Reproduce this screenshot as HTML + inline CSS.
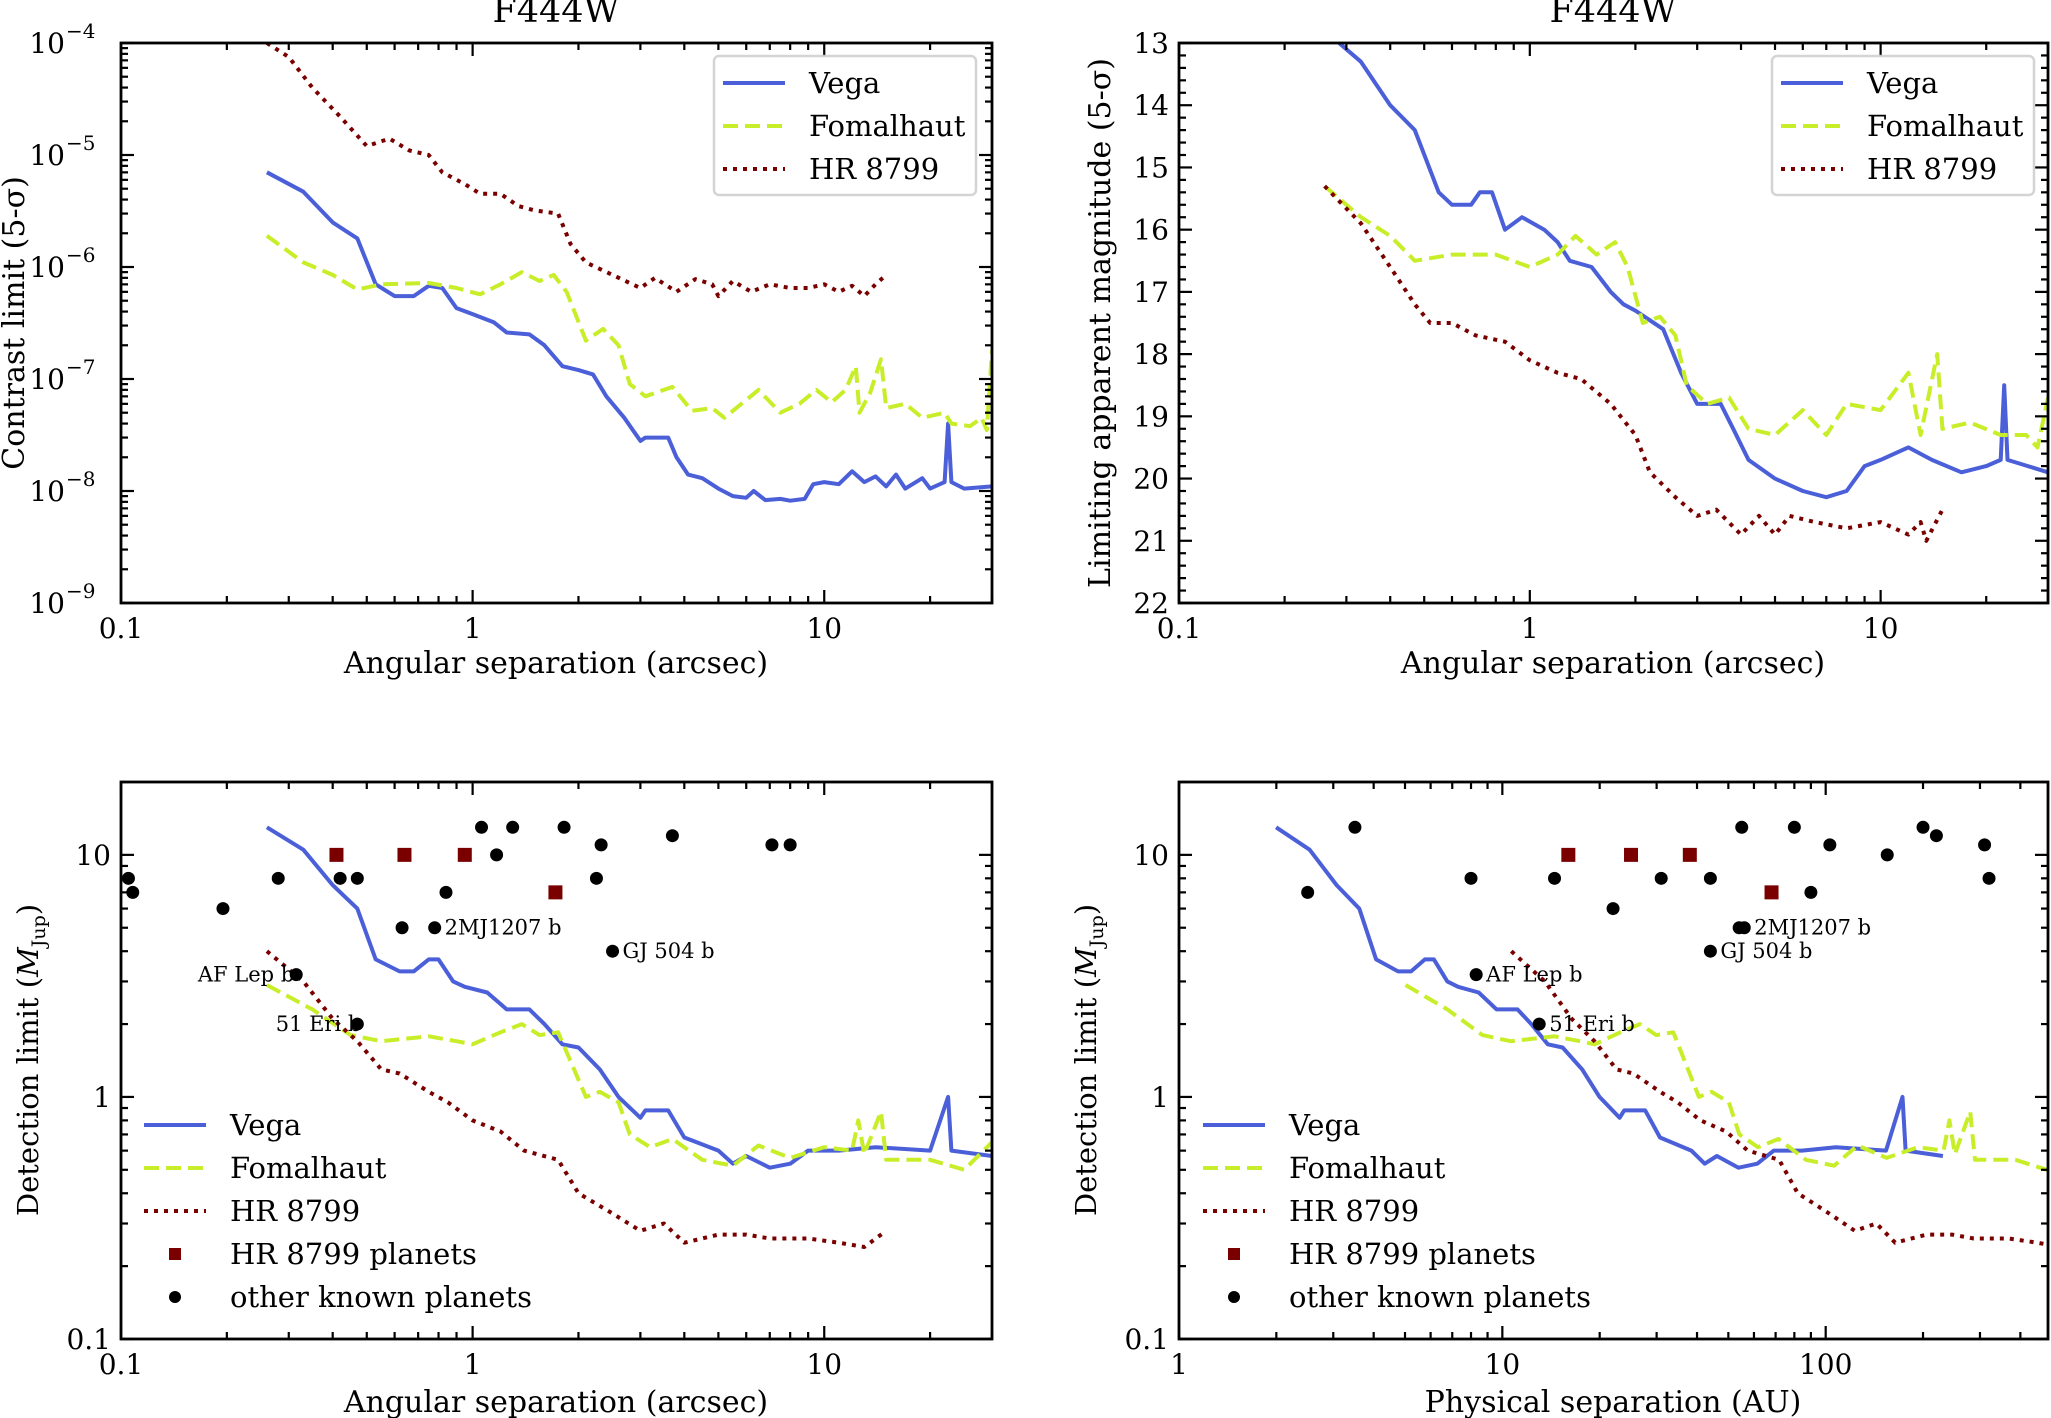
<!DOCTYPE html>
<html><head><meta charset="utf-8">
<style>
html,body{margin:0;padding:0;background:#fff;}
svg{display:block;font-family:"DejaVu Serif","Liberation Serif",serif;}
</style></head>
<body>
<svg id="fig" width="2051" height="1418" viewBox="0 0 2051 1418" xmlns="http://www.w3.org/2000/svg"></svg>
<script>
// ---------- DATA ----------
const vegaContrastX=[0.26,0.33,0.4,0.47,0.53,0.6,0.68,0.75,0.82,0.9,1.0,1.15,1.25,1.45,1.6,1.8,2.0,2.2,2.4,2.7,3.0,3.1,3.6,3.8,4.1,4.5,5,5.5,6,6.3,6.8,7.5,8,8.8,9.3,10,11,12,13,14,15,16,17,19,20,22,22.5,23,25,30];
const vegaContrastY=[7e-6,4.7e-6,2.5e-6,1.8e-6,7e-7,5.5e-7,5.5e-7,6.8e-7,6.5e-7,4.3e-7,3.8e-7,3.2e-7,2.6e-7,2.5e-7,2e-7,1.3e-7,1.2e-7,1.1e-7,7e-8,4.5e-8,2.8e-8,3e-8,3e-8,2e-8,1.4e-8,1.3e-8,1.05e-8,9e-9,8.7e-9,1e-8,8.3e-9,8.5e-9,8.2e-9,8.5e-9,1.15e-8,1.2e-8,1.15e-8,1.5e-8,1.2e-8,1.35e-8,1.1e-8,1.4e-8,1.05e-8,1.3e-8,1.05e-8,1.2e-8,4e-8,1.2e-8,1.05e-8,1.1e-8];
const fomContrastX=[0.26,0.33,0.4,0.47,0.55,0.75,0.9,1.05,1.2,1.38,1.55,1.7,1.85,2.1,2.35,2.6,2.8,3.1,3.7,4.2,4.8,5.2,6,6.5,7.5,8.5,9.5,10.5,11.5,12.3,12.6,13.5,14.5,15,17,19,22,23,26,28,29,30];
const fomContrastY=[1.9e-6,1.1e-6,8.5e-7,6.3e-7,7e-7,7.2e-7,6.5e-7,5.7e-7,7e-7,9e-7,7.5e-7,8.5e-7,6e-7,2.2e-7,2.8e-7,2e-7,9e-8,7e-8,8.5e-8,5.2e-8,5.5e-8,4.5e-8,6.5e-8,8e-8,5e-8,6e-8,8e-8,6.2e-8,8e-8,1.3e-7,5e-8,7.5e-8,1.5e-7,5.5e-8,6e-8,4.5e-8,5e-8,4e-8,3.8e-8,4.5e-8,3.5e-8,1.8e-7];
const hrContrastX=[0.26,0.3,0.35,0.42,0.5,0.58,0.66,0.75,0.82,0.95,1.05,1.2,1.35,1.5,1.75,1.9,2.1,2.5,3.0,3.3,3.8,4.3,4.8,5.0,5.5,6.2,7,8,9,10,11,12,13,14,15];
const hrContrastY=[1e-4,7.5e-5,4e-5,2.2e-5,1.2e-5,1.4e-5,1.1e-5,1e-5,7e-6,5.5e-6,4.5e-6,4.5e-6,3.5e-6,3.2e-6,3e-6,1.6e-6,1.1e-6,8.5e-7,6.5e-7,8e-7,6e-7,7.8e-7,7e-7,5.5e-7,7.5e-7,6e-7,7e-7,6.5e-7,6.5e-7,7e-7,6e-7,6.8e-7,5.5e-7,7e-7,8.5e-7];
const vegaMagX=[0.26,0.33,0.4,0.47,0.55,0.6,0.68,0.72,0.78,0.85,0.95,1.1,1.2,1.3,1.5,1.7,1.85,2.0,2.4,2.7,3.0,3.5,3.8,4.2,5,6,7,8,9,10,12,14,17,20,22,22.5,23,30];
const vegaMagY=[12.8,13.3,14,14.4,15.4,15.6,15.6,15.4,15.4,16,15.8,16,16.2,16.5,16.6,17,17.2,17.3,17.6,18.3,18.8,18.8,19.2,19.7,20,20.2,20.3,20.2,19.8,19.7,19.5,19.7,19.9,19.8,19.7,18.5,19.7,19.9];
const fomMagX=[0.26,0.33,0.4,0.47,0.6,0.8,1.0,1.2,1.35,1.55,1.75,1.9,2.1,2.35,2.6,2.8,3.2,3.7,4.2,5,6,7,8,10,12,13,14.5,15,18,22,26,28,30];
const fomMagY=[15.3,15.8,16.1,16.5,16.4,16.4,16.6,16.4,16.1,16.4,16.2,16.6,17.5,17.4,17.7,18.5,18.8,18.7,19.2,19.3,18.9,19.3,18.8,18.9,18.3,19.3,18,19.2,19.1,19.3,19.3,19.5,18.7];
const hrMagX=[0.26,0.33,0.4,0.47,0.52,0.6,0.7,0.85,1.0,1.2,1.4,1.7,2.0,2.2,2.6,3.0,3.4,4,4.5,5,5.5,6.5,8,10,12,13,13.5,15];
const hrMagY=[15.3,15.9,16.6,17.2,17.5,17.5,17.7,17.8,18.1,18.3,18.4,18.8,19.3,19.9,20.3,20.6,20.5,20.9,20.6,20.9,20.6,20.7,20.8,20.7,20.9,20.7,21,20.5];
const vegaMassX=[0.26,0.33,0.4,0.47,0.53,0.62,0.68,0.75,0.8,0.88,0.95,1.1,1.25,1.45,1.6,1.8,2.0,2.3,2.6,3.0,3.1,3.6,4.0,5,5.5,6,7,8,9,11,14,20,22.5,23,30];
const vegaMassY=[13,10.5,7.5,6,3.7,3.3,3.3,3.7,3.7,3,2.85,2.7,2.3,2.3,2.0,1.65,1.6,1.3,1.0,0.82,0.88,0.88,0.68,0.6,0.53,0.57,0.51,0.53,0.6,0.6,0.62,0.6,1.0,0.6,0.57];
const fomMassX=[0.26,0.35,0.45,0.55,0.75,0.9,1.0,1.2,1.38,1.55,1.75,2.1,2.3,2.6,2.8,3.2,3.7,4.5,5.5,6.5,8,10,12,12.5,13,14.5,15,20,25,30];
const fomMassY=[2.9,2.3,1.8,1.7,1.78,1.7,1.65,1.85,2.0,1.8,1.85,1.0,1.05,0.95,0.7,0.62,0.67,0.55,0.52,0.63,0.56,0.62,0.6,0.8,0.58,0.87,0.55,0.55,0.5,0.65];
const hrMassX=[0.26,0.33,0.4,0.47,0.55,0.62,0.75,0.85,1.0,1.2,1.4,1.75,2.0,2.5,3.0,3.5,4.0,5,6,7,9,11,13,15];
const hrMassY=[4,3,2.1,1.7,1.3,1.25,1.05,0.95,0.8,0.72,0.6,0.55,0.4,0.33,0.28,0.3,0.25,0.27,0.27,0.26,0.26,0.25,0.24,0.28];
const distVega=7.68, distFom=19.3, distHR=41;
const hrPlanetsArcsec=[0.41,0.64,0.95,1.72];
const hrPlanetsMass=[10,10,10,7];
const hrPlanetsAU=[16,25,38,68];
const otherArcsec=[0.105,0.108,0.195,0.28,0.315,0.42,0.47,0.47,0.63,0.78,0.84,1.06,1.17,1.3,1.82,2.25,2.32,2.5,3.7,7.1,8.0];
const otherArcMass=[8,7,6,8,3.2,8,8,2,5,5,7,13,10,13,13,8,11,4,12,11,11];
const otherArcLabel=["","","","","AF Lep b","","","51 Eri b","","2MJ1207 b","","","","","","","","GJ 504 b","","",""];
const otherAU=[2.5,3.5,8,8.3,14.5,13,22,31,44,44,54,56,55,80,90,103,155,200,220,310,320];
const otherAUMass=[7,13,8,3.2,8,2,6,8,8,4,5,5,13,13,7,11,10,13,12,11,8];
const otherAULabel=["","","","AF Lep b","","51 Eri b","","","","GJ 504 b","","2MJ1207 b","","","","","","","","",""];
const xTickLabelsArc=["0.1","1","10"];
const xTickLabelsAU=["1","10","100"];
const contrastTickLabels=["−4","−5","−6","−7","−8","−9"];
const magTickLabels=["13","14","15","16","17","18","19","20","21","22"];
const massTickLabels=["0.1","1","10"];

// ---------- DRAW ----------
const NS="http://www.w3.org/2000/svg";
const svg=document.getElementById('fig');
const C_VEGA="#4a5fd8", C_FOM="#c8ee2a", C_HR="#7a0000";
const LW=4;
function mk(tag,attrs,parent){const e=document.createElementNS(NS,tag);for(const k in attrs)e.setAttribute(k,attrs[k]);(parent||svg).appendChild(e);return e;}
function logScale(v0,v1,p0,p1){return v=>p0+(Math.log10(v)-Math.log10(v0))/(Math.log10(v1)-Math.log10(v0))*(p1-p0);}
function linScale(v0,v1,p0,p1){return v=>p0+(v-v0)/(v1-v0)*(p1-p0);}

function makePanel(name,L,T,R,B){
  const g=mk('g',{});
  
  
  const cp=mk('clipPath',{id:'clip-'+name},g);
  mk('rect',{x:L,y:T,width:R-L,height:B-T},cp);
  return g;
}
function frame(g,L,T,R,B){
  const f=mk('rect',{x:L,y:T,width:R-L,height:B-T,fill:'none',stroke:'#000','stroke-width':2.8},g);
  
  
}
function tickLine(g,x1,y1,x2,y2){mk('line',{x1,y1,x2,y2,stroke:'#000','stroke-width':2.2},g);}
function logXTicks(g,sx,d0,d1,L,T,R,B,labels,startDec){
  for(let d=d0;d<=d1;d++){for(let m=1;m<10;m++){const v=m*Math.pow(10,d);const x=sx(v);if(x<L-0.5||x>R+0.5)continue;
    const len=m===1?13:7;tickLine(g,x,B,x,B-len);tickLine(g,x,T,x,T+len);}}
  labels.forEach((lab,i)=>{const x=sx(Math.pow(10,startDec+i));
    const t=mk('text',{x:x,y:B+35,'font-size':28,'text-anchor':'middle',fill:'#000'},g);t.textContent=lab;
    
    });
}
function logYTicks(g,sy,d0,d1,L,T,R,B){
  for(let d=d0;d<=d1;d++){for(let m=1;m<10;m++){const v=m*Math.pow(10,d);const y=sy(v);if(y<T-0.5||y>B+0.5)continue;
    const len=m===1?13:7;tickLine(g,L,y,L+len,y);tickLine(g,R,y,R-len,y);}}
}
function series(g,name,xs,ys,sx,sy,color,dash,clipId){
  let d='';xs.forEach((x,i)=>{d+=(i?'L':'M')+sx(x).toFixed(1)+','+sy(ys[i]).toFixed(1);});
  const a={d:d,fill:'none',stroke:color,'stroke-width':LW,'stroke-linejoin':'round','clip-path':'url(#'+clipId+')'};
  if(dash==='dash'){a['stroke-dasharray']='15,7';}
  if(dash==='dot'){a['stroke-dasharray']='4,6';}
  const p=mk('path',a,g);
  
  
}
function legend(g,x,y,entries,boxed,w){
  const lg=mk('g',{},g);
  
  
  if(boxed){mk('rect',{x:x,y:y,width:w,height:entries.length*43+10,rx:5,fill:'#fff',stroke:'#d0d0d0','stroke-width':2.5,opacity:0.9},lg);}
  entries.forEach((e,i)=>{const cy=y+27+i*43;
    const eg=mk('g',{},lg);
    
    
    const lx=x+(boxed?9:0);
    if(e.type==='line'){const a={x1:lx,y1:cy,x2:lx+62,y2:cy,stroke:e.color,'stroke-width':LW};
      if(e.dash==='dash')a['stroke-dasharray']='15,7';if(e.dash==='dot')a['stroke-dasharray']='4,6';mk('line',a,eg);}
    else if(e.type==='square'){mk('rect',{x:lx+25,y:cy-6,width:12,height:12,fill:e.color},eg);}
    else {mk('circle',{cx:lx+31,cy:cy,r:6,fill:'#000'},eg);}
    const t=mk('text',{x:lx+86,y:cy+10,'font-size':29,fill:'#000'},eg);t.textContent=e.label;});
}
const legTop=[{key:'vega',type:'line',color:C_VEGA,label:'Vega'},{key:'fomalhaut',type:'line',color:C_FOM,dash:'dash',label:'Fomalhaut'},{key:'hr8799',type:'line',color:C_HR,dash:'dot',label:'HR 8799'}];
const legBot=legTop.concat([{key:'hr8799-planets',type:'square',color:C_HR,label:'HR 8799 planets'},{key:'other-planets',type:'circle',label:'other known planets'}]);

function textEl(g,name,x,y,size,txt,anchor,rot){
  const a={x:x,y:y,'font-size':size,'text-anchor':anchor||'middle',fill:'#000'};
  if(rot)a.transform='rotate(-90 '+x+' '+y+')';
  const t=mk('text',a,g);t.textContent=txt;
  
  return t;
}
function massTitle(g,x,y){
  const t=mk('text',{x:x,y:y,'font-size':29,'text-anchor':'middle',fill:'#000',transform:'rotate(-90 '+x+' '+y+')'},g);
  
  
  const a=mk('tspan',{},t);a.textContent='Detection limit (';
  const b=mk('tspan',{'font-style':'italic'},t);b.textContent='M';
  const c=mk('tspan',{'font-size':19,dy:7},t);c.textContent='Jup';
  const d=mk('tspan',{dy:-7},t);d.textContent=')';
}

// Panel 1
(function(){
  const L=121,T=43,R=992,B=603;
  const g=makePanel('contrast-panel',L,T,R,B);
  const sx=logScale(0.1,30,L,R), sy=logScale(1e-4,1e-9,T,B);
  series(g,'vega-contrast-line',vegaContrastX,vegaContrastY,sx,sy,C_VEGA,'','clip-contrast-panel');
  series(g,'fomalhaut-contrast-line',fomContrastX,fomContrastY,sx,sy,C_FOM,'dash','clip-contrast-panel');
  series(g,'hr8799-contrast-line',hrContrastX,hrContrastY,sx,sy,C_HR,'dot','clip-contrast-panel');
  frame(g,L,T,R,B);
  logXTicks(g,sx,-1,1,L,T,R,B,xTickLabelsArc,-1);
  logYTicks(g,sy,-9,-4,L,T,R,B);
  contrastTickLabels.forEach((lab,i)=>{const y=sy(Math.pow(10,-4-i));
    const t=mk('text',{x:L-56,y:y+10,'font-size':28,'text-anchor':'end',fill:'#000'},g);t.textContent='10';
    
    
    const s=mk('text',{x:L-55,y:y-5,'font-size':20,'text-anchor':'start',fill:'#000'},g);s.textContent=lab;});
  textEl(g,'title',556,22,35,'F444W');
  textEl(g,'x-axis-title',556,673,30,'Angular separation (arcsec)');
  textEl(g,'y-axis-title',24,323,30,'Contrast limit (5-σ)','middle',true);
  legend(g,714,56,legTop,true,262);
})();

// Panel 2
(function(){
  const L=1179,T=43,R=2048,B=603;
  const g=makePanel('magnitude-panel',L,T,R,B);
  const sx=logScale(0.1,30,L,R), sy=linScale(13,22,T,B);
  series(g,'vega-magnitude-line',vegaMagX,vegaMagY,sx,sy,C_VEGA,'','clip-magnitude-panel');
  series(g,'fomalhaut-magnitude-line',fomMagX,fomMagY,sx,sy,C_FOM,'dash','clip-magnitude-panel');
  series(g,'hr8799-magnitude-line',hrMagX,hrMagY,sx,sy,C_HR,'dot','clip-magnitude-panel');
  frame(g,L,T,R,B);
  logXTicks(g,sx,-1,1,L,T,R,B,xTickLabelsArc,-1);
  for(let k=0;k<=45;k++){const v=13+k*0.2;const y=sy(v);const len=(k%5===0)?13:7;tickLine(g,L,y,L+len,y);tickLine(g,R,y,R-len,y);}
  magTickLabels.forEach((lab,i)=>{const t=mk('text',{x:L-10,y:sy(13+i)+10,'font-size':28,'text-anchor':'end',fill:'#000'},g);t.textContent=lab;
    
    });
  textEl(g,'title',1613,22,35,'F444W');
  textEl(g,'x-axis-title',1613,673,30,'Angular separation (arcsec)');
  textEl(g,'y-axis-title',1110,323,30,'Limiting apparent magnitude (5-σ)','middle',true);
  legend(g,1772,56,legTop,true,262);
})();

function massYAxis(g,sy,L,T,R,B){
  logYTicks(g,sy,-1,1,L,T,R,B);
  massTickLabels.forEach((lab,i)=>{const t=mk('text',{x:L-10,y:sy(Math.pow(10,i-1))+10,'font-size':28,'text-anchor':'end',fill:'#000'},g);t.textContent=lab;
    
    });
}
function planets(g,sx,sy,px,pm,ox,om,olab){
  px.forEach((x,i)=>{const r=mk('rect',{x:sx(x)-7,y:sy(pm[i])-7,width:14,height:14,fill:C_HR},g);
    
    });
  ox.forEach((x,i)=>{const c=mk('circle',{cx:sx(x),cy:sy(om[i]),r:6.5,fill:'#000'},g);
    
    
    if(olab[i]){const t=mk('text',{x:sx(x)+10,y:sy(om[i])+7,'font-size':21,fill:'#000'},g);t.textContent=olab[i];
      
      }});
}

// Panel 3
(function(){
  const L=121,T=782,R=992,B=1339;
  const g=makePanel('mass-arcsec-panel',L,T,R,B);
  const sx=logScale(0.1,30,L,R), sy=logScale(20,0.1,T,B);
  series(g,'vega-mass-line',vegaMassX,vegaMassY,sx,sy,C_VEGA,'','clip-mass-arcsec-panel');
  series(g,'fomalhaut-mass-line',fomMassX,fomMassY,sx,sy,C_FOM,'dash','clip-mass-arcsec-panel');
  series(g,'hr8799-mass-line',hrMassX,hrMassY,sx,sy,C_HR,'dot','clip-mass-arcsec-panel');
  const lab=otherArcLabel.map((s)=>(s==='AF Lep b'||s==='51 Eri b')?'':s);
  planets(g,sx,sy,hrPlanetsArcsec,hrPlanetsMass,otherArcsec,otherArcMass,lab);
  const t1=mk('text',{x:sx(0.315)-2,y:sy(3.2)+7,'font-size':21,'text-anchor':'end',fill:'#000'},g);t1.textContent='AF Lep b';
  const t2=mk('text',{x:sx(0.47)+4,y:sy(2)+7,'font-size':21,'text-anchor':'end',fill:'#000'},g);t2.textContent='51 Eri b';
  frame(g,L,T,R,B);
  logXTicks(g,sx,-1,1,L,T,R,B,xTickLabelsArc,-1);
  massYAxis(g,sy,L,T,R,B);
  textEl(g,'x-axis-title',556,1412,30,'Angular separation (arcsec)');
  massTitle(g,38,1060);
  legend(g,144,1098,legBot,false,0);
})();

// Panel 4
(function(){
  const L=1179,T=782,R=2048,B=1339;
  const g=makePanel('mass-au-panel',L,T,R,B);
  const sx=logScale(1,487,L,R), sy=logScale(20,0.1,T,B);
  series(g,'vega-mass-au-line',vegaMassX.map(v=>v*distVega),vegaMassY,sx,sy,C_VEGA,'','clip-mass-au-panel');
  series(g,'fomalhaut-mass-au-line',fomMassX.map(v=>v*distFom),fomMassY,sx,sy,C_FOM,'dash','clip-mass-au-panel');
  series(g,'hr8799-mass-au-line',hrMassX.map(v=>v*distHR),hrMassY,sx,sy,C_HR,'dot','clip-mass-au-panel');
  planets(g,sx,sy,hrPlanetsAU,hrPlanetsMass,otherAU,otherAUMass,otherAULabel);
  frame(g,L,T,R,B);
  logXTicks(g,sx,0,2,L,T,R,B,xTickLabelsAU,0);
  massYAxis(g,sy,L,T,R,B);
  textEl(g,'x-axis-title',1613,1412,30,'Physical separation (AU)');
  massTitle(g,1096,1060);
  legend(g,1203,1098,legBot,false,0);
})();
</script>
</body></html>
